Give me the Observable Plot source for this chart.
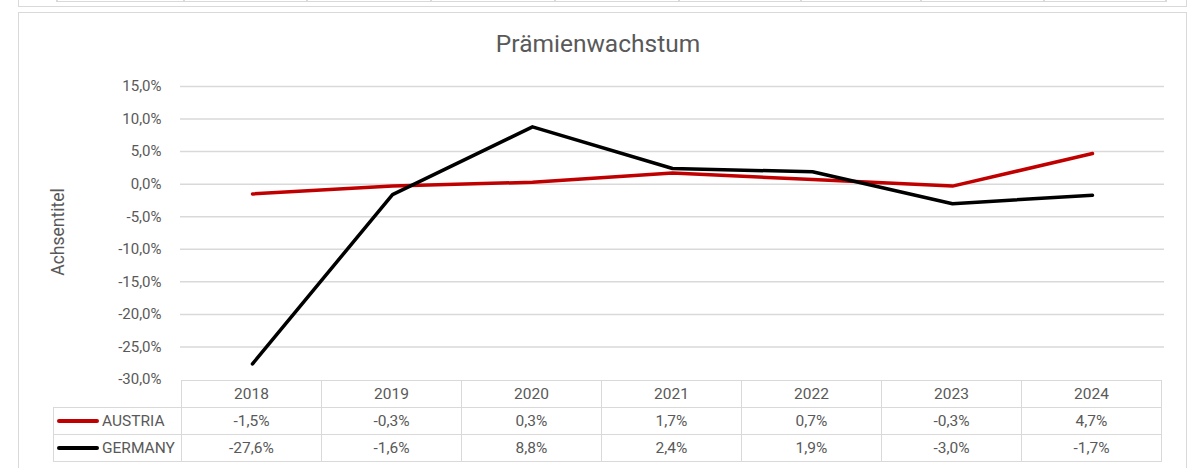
<!DOCTYPE html>
<html>
<head>
<meta charset="utf-8">
<script src="https://cdn.jsdelivr.net/npm/d3@7"></script>
<script src="https://cdn.jsdelivr.net/npm/@observablehq/plot@0.6"></script>
<style>
  html, body { margin: 0; padding: 0; background: #fff; }
  body { width: 1196px; height: 468px; overflow: hidden; font-family: "Roboto", "Liberation Sans", sans-serif; color: #595959; }
  #wrap { position: relative; width: 1196px; height: 468px; }
  .abs { position: absolute; }
  #title { left: 0; width: 1196px; top: 29px; text-align: center; font-size: 24.5px; line-height: 30px; color: #595959; }
  #ytitle { left: 58px; top: 232px; transform: translate(-50%, -50%) rotate(-90deg); font-size: 17.5px; white-space: nowrap; }
  table { border-collapse: collapse; font-size: 15.5px; color: #595959; }
  td { border: 1.5px solid #d9d9d9; text-align: center; height: 26px; padding: 0; }
  td.blank { border: none; }
  td.leg { text-align: left; width: 124px; padding-left: 3px; white-space: nowrap; }
  .sw { display: inline-block; width: 42px; height: 4px; border-radius: 2px; vertical-align: middle; margin-right: 3px; position: relative; top: -1px; }
</style>
</head>
<body>
<div id="wrap">
  <div class="abs" style="left:18px;top:-2px;width:1167px;height:8px;border:1.5px solid #d9d9d9;border-top:none;"></div>
  <div id="oldtable" class="abs" style="left:56px;top:-2px;width:1109px;height:3px;border-bottom:1.5px solid #d9d9d9;"></div>
  <div class="abs" style="left:18px;top:12px;width:1167px;height:470px;border:1.5px solid #d9d9d9;"></div>
  <div id="title" class="abs">Prämienwachstum</div>
  <div id="ytitle" class="abs">Achsentitel</div>
  <div id="chart" class="abs" style="left:0;top:0;"></div>
  <div id="tbl" class="abs" style="left:53px;top:380px;"></div>
</div>
<script>
const years = ["2018", "2019", "2020", "2021", "2022", "2023", "2024"];
const austria = [-1.5, -0.3, 0.3, 1.7, 0.7, -0.3, 4.7];
const germany = [-27.6, -1.6, 8.8, 2.4, 1.9, -3.0, -1.7];
const seriesNames = ["AUSTRIA", "GERMANY"];
const seriesColors = ["#c00000", "#000000"];
const yTicks = [15, 10, 5, 0, -5, -10, -15, -20, -25, -30];
const oldTableLines = [56, 183, 306, 430, 554, 678, 800, 920, 1043, 1165];

const fmt = v => v.toFixed(1).replace(".", ",") + "%";

const rows = [];
years.forEach((y, i) => {
  rows.push({ year: y, value: austria[i], series: seriesNames[0] });
});
years.forEach((y, i) => {
  rows.push({ year: y, value: germany[i], series: seriesNames[1] });
});

const plot = Plot.plot({
  width: 1196,
  height: 400,
  marginLeft: 180,
  marginRight: 32,
  marginTop: 86,
  marginBottom: 21,
  style: { fontFamily: "Roboto, 'Liberation Sans', sans-serif", fontSize: "15px", color: "#595959", background: "transparent", overflow: "visible" },
  x: { type: "point", domain: years, padding: 0.5, axis: null },
  y: { domain: [-30, 15], ticks: yTicks, tickFormat: fmt, tickSize: 0, tickPadding: 19, label: null },
  color: { domain: seriesNames, range: seriesColors },
  marks: [
    Plot.ruleY(yTicks.filter(t => t !== -30), { stroke: "#d9d9d9", strokeWidth: 1.5, strokeOpacity: 1 }),
    Plot.line(rows, { x: "year", y: "value", stroke: "series", z: "series", strokeWidth: 3.5, strokeLinejoin: "round", strokeLinecap: "round" })
  ]
});
document.getElementById("chart").appendChild(plot);

// remnants of table above
const wrap = document.getElementById("wrap");
oldTableLines.forEach(x => {
  const d = document.createElement("div");
  d.className = "abs";
  d.style.cssText = `left:${x}px;top:-2px;width:1.5px;height:4px;background:#d9d9d9;`;
  wrap.appendChild(d);
});

// data table
const table = document.createElement("table");
const head = document.createElement("tr");
const blank = document.createElement("td");
blank.className = "blank";
blank.style.width = "127px";
head.appendChild(blank);
years.forEach(y => {
  const td = document.createElement("td");
  td.textContent = y;
  td.style.width = "139px";
  head.appendChild(td);
});
table.appendChild(head);
[austria, germany].forEach((vals, si) => {
  const tr = document.createElement("tr");
  const leg = document.createElement("td");
  leg.className = "leg";
  leg.innerHTML = `<span class="sw" style="background:${seriesColors[si]}"></span>${seriesNames[si]}`;
  tr.appendChild(leg);
  vals.forEach(v => {
    const td = document.createElement("td");
    td.textContent = fmt(v);
    tr.appendChild(td);
  });
  table.appendChild(tr);
});
document.getElementById("tbl").appendChild(table);
</script>
</body>
</html>
